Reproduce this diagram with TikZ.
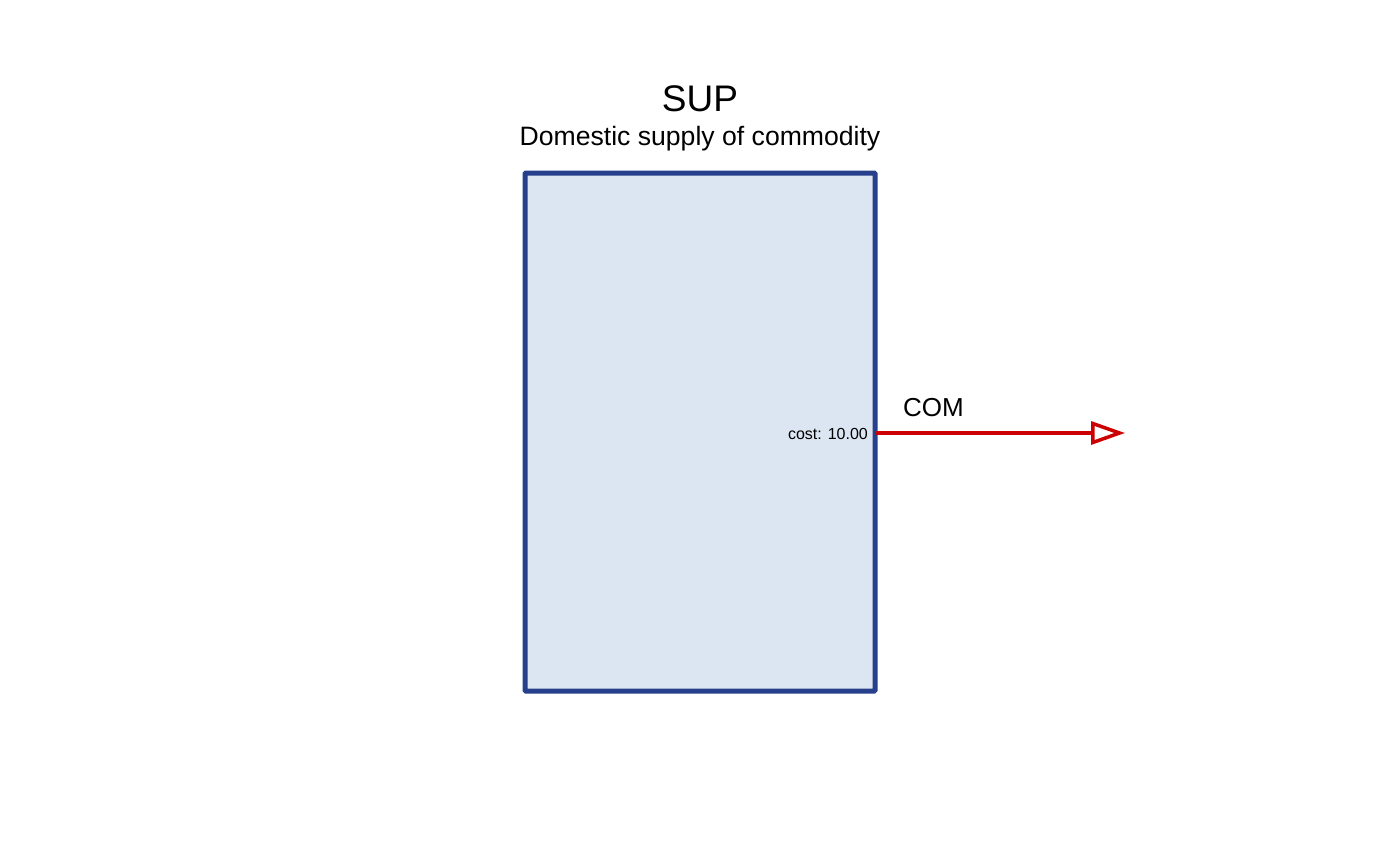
\documentclass[tikz,border=0pt]{standalone}
\usepackage{fontspec}
\setmainfont{Liberation Sans}
\usetikzlibrary{arrows.meta}
\definecolor{boxfill}{RGB}{220,230,242}
\definecolor{boxline}{RGB}{39,64,139}
\definecolor{flowred}{RGB}{204,0,0}
\tikzset{
  procbox/.style={draw=boxline, fill=boxfill, line width=5pt, rounded corners=1pt},
  flow/.style={draw=flowred, line width=4pt, -{Triangle[open, length=34pt, width=23pt, line width=3.5pt]}},
  lbl/.style={inner sep=0pt, anchor=base}
}
\begin{document}
\begin{tikzpicture}[x=1pt,y=-1pt]
\useasboundingbox (0,0) rectangle (1400,865);
\draw[procbox] (525,173) rectangle (875,691);
\coordinate (boxR) at (875,433);
\coordinate (flowEnd) at (1125,433);
\node[lbl, font=\fontsize{37}{40}\selectfont] (title) at (700,111) {SUP};
\node[lbl, font=\fontsize{26.6}{30}\selectfont] (desc) at (700,145) {Domestic supply of commodity};
\draw[flow] (boxR) -- (flowEnd);
\node[lbl, font=\fontsize{26}{30}\selectfont] (com) at (933.5,416) {COM};
\node[inner sep=0pt, anchor=base east, font=\fontsize{16}{18}\selectfont] (cost) at (868,439) {cost: 10.00};
\end{tikzpicture}
\end{document}
